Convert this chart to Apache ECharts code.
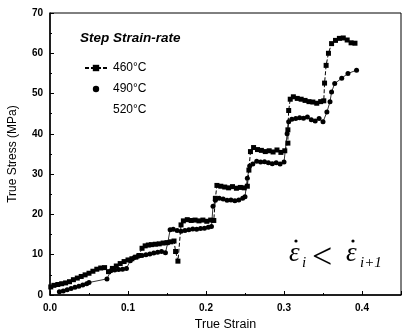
<!DOCTYPE html>
<html><head><meta charset="utf-8">
<script src="https://cdn.jsdelivr.net/npm/echarts@6/dist/echarts.min.js"></script>
<style>html,body{margin:0;padding:0;background:#fff}#c{width:403px;height:334px}</style>
</head><body><div id="c"></div>
<script>
var xTicks = [0, 0.1, 0.2, 0.3, 0.4];
var xTickLabels = ['0.0', '0.1', '0.2', '0.3', '0.4'];
var yTicks = [0, 10, 20, 30, 40, 50, 60, 70];
var seriesNames = ['460\u00b0C', '490\u00b0C', '520\u00b0C'];

var s460 = [
[0.001,2.0],[0.005,2.4],[0.01,2.6],[0.015,2.8],[0.02,3.0],[0.025,3.3],[0.03,3.8],[0.035,4.2],[0.04,4.6],[0.045,5.0],[0.05,5.4],[0.055,5.9],[0.06,6.4],[0.065,6.7],[0.07,6.8],
[0.075,5.8],[0.08,6.6],[0.085,7.2],[0.09,7.8],[0.095,8.3],[0.1,8.7],[0.105,9.0],[0.11,9.4],[0.114,9.8],
[0.118,11.6],[0.122,12.2],[0.126,12.4],[0.13,12.5],[0.135,12.6],[0.14,12.7],[0.145,12.9],[0.15,13.0],[0.155,13.2],[0.159,13.4],
[0.161,10.8],[0.164,8.4],
[0.168,17.4],[0.171,18.4],[0.176,18.7],[0.181,18.5],[0.186,18.6],[0.191,18.4],[0.196,18.6],[0.201,18.3],[0.206,18.6],[0.21,18.5],
[0.212,24.0],[0.214,27.2],[0.219,27.0],[0.224,26.8],[0.229,26.6],[0.234,26.9],[0.239,26.5],[0.244,26.7],[0.249,26.6],[0.253,27.0],
[0.255,31.0],[0.257,35.6],[0.261,36.6],[0.266,36.1],[0.271,35.9],[0.276,35.6],[0.281,35.8],[0.286,35.5],[0.291,36.0],[0.296,35.4],[0.301,35.8],
[0.305,37.7],[0.305,41.0],[0.306,45.8],[0.308,48.6],[0.312,49.2],[0.317,48.8],[0.322,48.6],[0.327,48.3],[0.332,48.0],[0.337,47.9],[0.342,47.6],[0.347,48.0],[0.351,48.2],
[0.352,52.6],[0.354,57.0],[0.357,60.0],[0.361,62.4],[0.366,63.2],[0.371,63.7],[0.376,63.8],[0.381,63.3],[0.386,62.6],[0.391,62.5]
];

var s490 = [
[0.012,0.8],[0.017,1.0],[0.022,1.3],[0.027,1.6],[0.032,1.9],[0.037,2.2],[0.042,2.5],[0.047,2.8],[0.05,3.1],
[0.073,4.0],
[0.078,6.0],[0.083,6.2],[0.088,6.3],[0.093,6.4],[0.098,6.6],[0.103,8.5],[0.108,9.3],[0.113,9.6],[0.118,9.8],[0.123,10.0],[0.128,10.2],[0.133,10.4],[0.138,10.6],[0.143,10.8],[0.148,10.5],
[0.151,13.0],[0.154,16.2],[0.158,16.3],[0.163,16.0],[0.168,15.8],[0.173,16.0],[0.178,16.2],[0.183,16.4],[0.188,16.3],[0.193,16.5],[0.198,16.6],[0.203,16.8],[0.207,17.0],
[0.209,22.0],[0.212,23.5],[0.217,24.0],[0.222,23.8],[0.227,23.5],[0.232,23.6],[0.237,23.4],[0.242,23.6],[0.247,24.0],[0.25,24.4],
[0.253,29.0],[0.256,32.0],[0.26,32.5],[0.265,33.2],[0.27,33.0],[0.275,33.1],[0.28,32.8],[0.285,32.6],[0.29,32.8],[0.295,32.5],[0.3,33.0],
[0.304,40.0],[0.306,43.0],[0.31,43.6],[0.315,43.8],[0.32,44.0],[0.325,43.9],[0.33,44.2],[0.335,43.5],[0.34,43.2],[0.345,43.8],[0.35,43.0],
[0.355,45.4],[0.359,48.0],[0.361,50.4],[0.365,52.5],[0.374,53.8],[0.382,55.0],[0.393,55.8]
];

var s520 = [];

var chart = echarts.init(document.getElementById('c'), null, {renderer: 'canvas'});
var axisFont = 'Liberation Sans, Arial, sans-serif';
var serif = 'Liberation Serif, Times New Roman, serif';
chart.setOption({
  animation: false,
  backgroundColor: '#fff',
  grid: {left: 50, right: 2, top: 13, bottom: 39, show: true, borderColor: '#000', borderWidth: 1,
         containLabel: false, outerBoundsMode: 'none'},
  xAxis: {
    type: 'value', min: 0, max: 0.45, interval: 0.1,
    name: 'True Strain', nameLocation: 'middle', nameGap: 23,
    nameTextStyle: {fontFamily: axisFont, fontSize: 12.5, color: '#000'},
    axisLine: {lineStyle: {color: '#000', width: 1.5}},
    axisTick: {inside: true, length: 4, lineStyle: {color: '#000'}},
    minorTick: {show: true, splitNumber: 2, length: 2, lineStyle: {color: '#000'}},
    splitLine: {show: false},
    axisLabel: {fontFamily: axisFont, fontSize: 10, fontWeight: 'bold', color: '#000', margin: 8,
      formatter: function (v) { var i = xTicks.indexOf(Math.round(v * 10) / 10); return i >= 0 && Math.abs(v - xTicks[i]) < 1e-9 ? xTickLabels[i] : ''; }}
  },
  yAxis: {
    type: 'value', min: 0, max: 70, interval: 10,
    name: 'True Stress (MPa)', nameLocation: 'middle', nameGap: 31,
    nameTextStyle: {fontFamily: axisFont, fontSize: 12, color: '#000'},
    axisLine: {show: true, lineStyle: {color: '#000', width: 1.5}},
    axisTick: {show: true, inside: true, length: 4, lineStyle: {color: '#000'}},
    minorTick: {show: true, splitNumber: 2, length: 2, lineStyle: {color: '#000'}},
    splitLine: {show: false},
    axisLabel: {fontFamily: axisFont, fontSize: 10, fontWeight: 'bold', color: '#000', margin: 7}
  },
  legend: {
    orient: 'vertical', left: 79, top: 57, itemWidth: 22, itemHeight: 8, itemGap: 9,
    textStyle: {fontFamily: axisFont, fontSize: 12, color: '#000', padding: [0, 0, 0, 1]},
    data: [
      {name: seriesNames[0]},
      {name: seriesNames[1], lineStyle: {width: 0, opacity: 0}},
      {name: seriesNames[2], itemStyle: {opacity: 0}, lineStyle: {opacity: 0}}
    ]
  },
  series: [
    {name: seriesNames[0], type: 'line', data: s460, symbol: 'rect', symbolSize: 5,
     itemStyle: {color: '#000'}, lineStyle: {color: '#000', width: 1, type: [4, 2]}},
    {name: seriesNames[1], type: 'line', data: s490, symbol: 'circle', symbolSize: 5,
     itemStyle: {color: '#000'}, lineStyle: {color: '#000', width: 0.8}},
    {name: seriesNames[2], type: 'line', data: s520, symbol: 'none',
     itemStyle: {color: '#000', opacity: 0}, lineStyle: {color: '#000', width: 0.8, opacity: 0}}
  ],
  graphic: [
    {type: 'text', left: 80, top: 31, style: {text: 'Step Strain-rate', font: 'italic bold 13.5px Liberation Sans, Arial, sans-serif', fill: '#000'}},
    {type: 'text', x: 289, y: 240, style: {text: '\u03b5', font: 'italic 27px ' + serif, fill: '#000'}},
    {type: 'circle', shape: {cx: 296, cy: 241, r: 1.6}, style: {fill: '#000'}},
    {type: 'text', x: 302, y: 256, style: {text: 'i', font: 'italic 15px ' + serif, fill: '#000'}},
    {type: 'text', x: 312, y: 241, style: {text: '<', font: '36px ' + serif, fill: '#000'}},
    {type: 'text', x: 346, y: 240, style: {text: '\u03b5', font: 'italic 27px ' + serif, fill: '#000'}},
    {type: 'circle', shape: {cx: 353, cy: 241, r: 1.6}, style: {fill: '#000'}},
    {type: 'text', x: 360, y: 256, style: {text: 'i+1', font: 'italic 15px ' + serif, fill: '#000'}}
  ]
});
</script></body></html>
